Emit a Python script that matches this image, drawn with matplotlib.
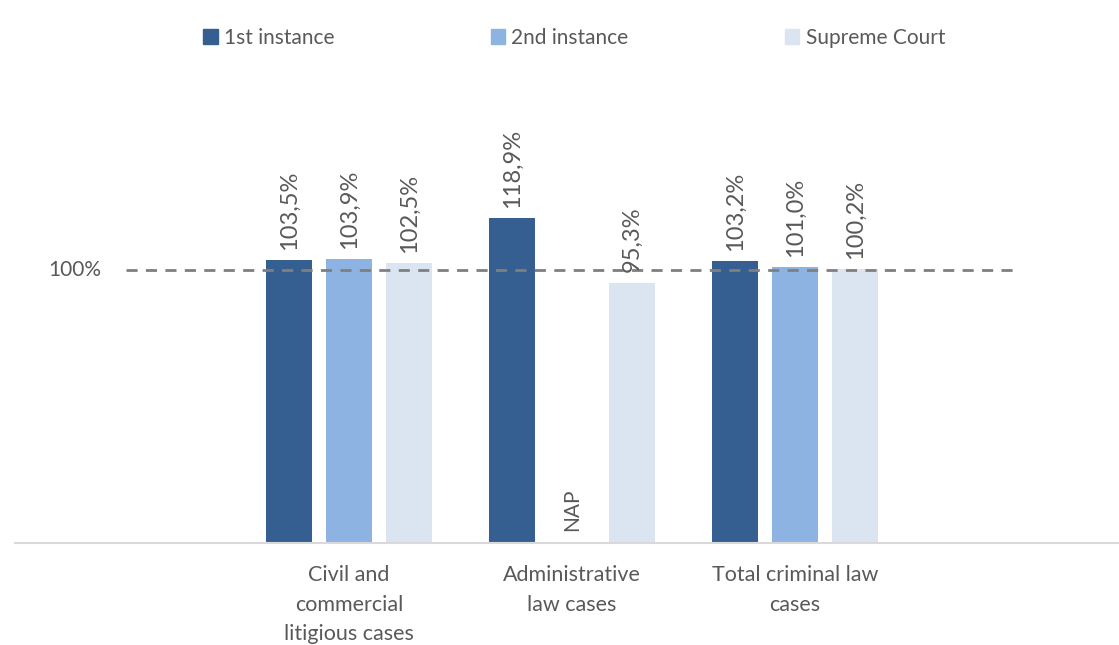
import matplotlib.pyplot as plt
from matplotlib.patches import Patch
import numpy as np

plt.rcParams['font.family'] = ['Lato', 'DejaVu Sans']

categories = ['Civil and\ncommercial\nlitigious cases', 'Administrative\nlaw cases', 'Total criminal law\ncases']
series = ['1st instance', '2nd instance', 'Supreme Court']
first = [103.5, 118.9, 103.2]
second = [103.9, None, 101.0]
supreme = [102.5, 95.3, 100.2]
colors = ['#365F91', '#8DB3E2', '#DBE5F1']
text_col = '#595959'

fig = plt.figure(figsize=(11.19, 6.45), dpi=100)
# axes: left x=15px, right 1119px, bottom y=543px, top y=60px
ax = fig.add_axes([15 / 1119, 1 - 543 / 645, 1 - 15 / 1119, (543 - 60) / 645])

x = np.arange(len(categories))
off = 0.269
w = 0.206
for i, (vals, c) in enumerate(zip([first, second, supreme], colors)):
    for xi, v in zip(x, vals):
        xp = xi + (i - 1) * off
        if v is None:
            ax.text(xp, 4.5, 'NAP', rotation=90, ha='center', va='bottom',
                    fontsize=15, color=text_col)
            continue
        ax.bar(xp, v, width=w, color=c)
        ax.text(xp, v + 3.8, f'{v:.1f}%'.replace('.', ','), rotation=90,
                ha='center', va='bottom', fontsize=17, color=text_col)

ax.hlines(100, -1.0, 2.98, colors='#7F7F7F', linestyles=(0, (4, 3)), linewidth=2)
ax.text(-1.11, 100, '100%', ha='right', va='center', fontsize=15, color=text_col)

ax.set_xlim(-1.498, 3.453)
ax.set_ylim(0, (543 - 60) / 2.73)
ax.set_xticks(x)
ax.set_xticklabels(categories, fontsize=15.5, color=text_col, linespacing=1.58)
ax.tick_params(axis='x', length=0, pad=16)
ax.set_yticks([])
for s in ['top', 'right', 'left']:
    ax.spines[s].set_visible(False)
ax.spines['bottom'].set_color('#D9D9D9')
ax.spines['bottom'].set_linewidth(1.5)

handles = [Patch(color=c) for c in colors]
fig.legend(handles, series, loc='center', bbox_to_anchor=(574 / 1119, 1 - 38 / 645),
           ncol=3, frameon=False, fontsize=15, labelcolor=text_col,
           handlelength=0.7, handleheight=0.7, handletextpad=0.3, columnspacing=7.5)

fig.savefig('out.png', dpi=100)
